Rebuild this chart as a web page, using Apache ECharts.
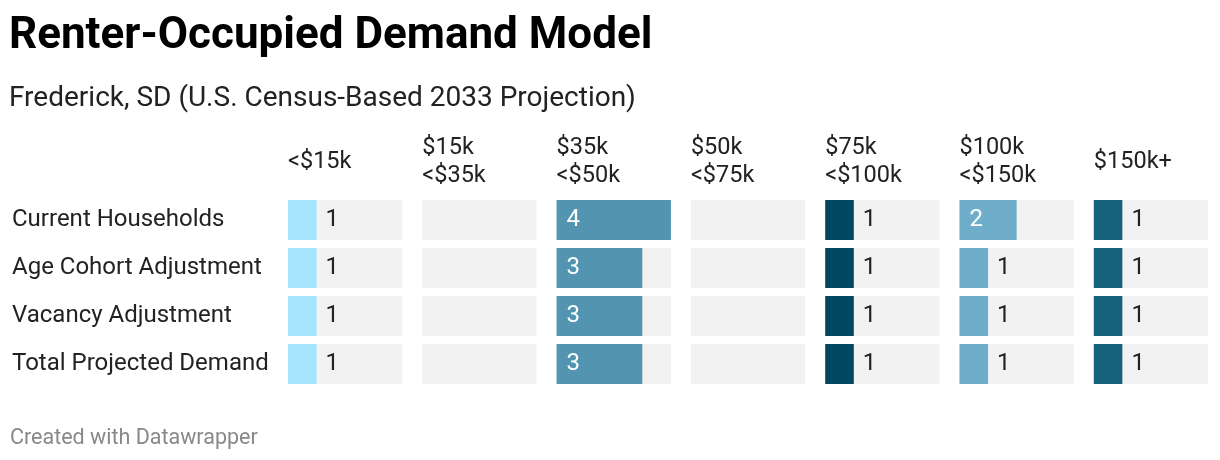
<!DOCTYPE html>
<html><head><meta charset="utf-8">
<script src="https://cdn.jsdelivr.net/npm/echarts@6/dist/echarts.min.js"></script>
<style>html,body{margin:0;padding:0;background:#fff}#c{width:1220px;height:460px}</style>
</head><body><div id="c"></div>
<script>
const rows = ["Current Households","Age Cohort Adjustment","Vacancy Adjustment","Total Projected Demand"];
const columns = ["<$15k","$15k\n<$35k","$35k\n<$50k","$50k\n<$75k","$75k\n<$100k","$100k\n<$150k","$150k+"];
const colColors = ["#a5e4fc","#5394b0","#5394b0","#5394b0","#01475f","#6eaecb","#16617b"];
const values = [
  [1,1,1,1],
  [0,0,0,0],
  [4,3,3,3],
  [0,0,0,0],
  [1,1,1,1],
  [2,1,1,1],
  [1,1,1,1]
];
const maxVal = 4;

(function(){
const chart = echarts.init(document.getElementById('c'), null, {renderer:'canvas'});
const FONT = 'Roboto';
const x0 = 288, colW = 114.3, step = 134.3, gTop = 196, gH = 192;
const grids=[], xAxes=[], yAxes=[], series=[], graphics=[];
columns.forEach((name,i)=>{
  const left = x0 + i*step;
  grids.push({left:left, top:gTop, width:colW, height:gH, containLabel:false});
  xAxes.push({type:'value', gridIndex:i, min:0, max:maxVal, show:false});
  yAxes.push({type:'category', gridIndex:i, data:rows, inverse:true,
    axisLine:{show:false}, axisTick:{show:false}, splitLine:{show:false},
    axisLabel:{show:i===0, align:'left', margin:left-12, fontFamily:FONT, fontSize:24, color:'#222', padding:[6,0,0,0]}});
  graphics.push({type:'text', x:left, y:162, silent:true,
    style:{text:name, font:'23.5px '+FONT, fill:'#222', verticalAlign:'middle', align:'left', lineHeight:28.5}});
  series.push({type:'bar', xAxisIndex:i, yAxisIndex:i, barWidth:40,
    itemStyle:{color:colColors[i]}, showBackground:true, backgroundStyle:{color:'#f2f2f2'},
    label:{show:true, fontFamily:FONT, fontSize:24, padding:[6,0,0,0],
      formatter:p=>p.value>0?String(p.value):''},
    emphasis:{disabled:true}, silent:true,
    data: values[i].map(v=>({value:v, label: v>=2 ? {position:'insideLeft', distance:10, color:'#fff'} : {position:'right', distance:9, color:'#222'}}))
  });
});
chart.setOption({
  animation:false,
  title:[
    {text:'Renter-Occupied Demand Model', left:4, top:10, textStyle:{fontFamily:FONT, fontSize:44, fontWeight:'bold', color:'#000'}},
    {text:'Frederick, SD (U.S. Census-Based 2033 Projection)', left:4, top:80, textStyle:{fontFamily:FONT, fontSize:28, fontWeight:'normal', color:'#222'}},
    {text:'Created with Datawrapper', left:5, top:423, textStyle:{fontFamily:FONT, fontSize:21.5, fontWeight:'normal', color:'#888'}}
  ],
  grid:grids, xAxis:xAxes, yAxis:yAxes, series:series, graphic:graphics
});
})();
</script></body></html>
